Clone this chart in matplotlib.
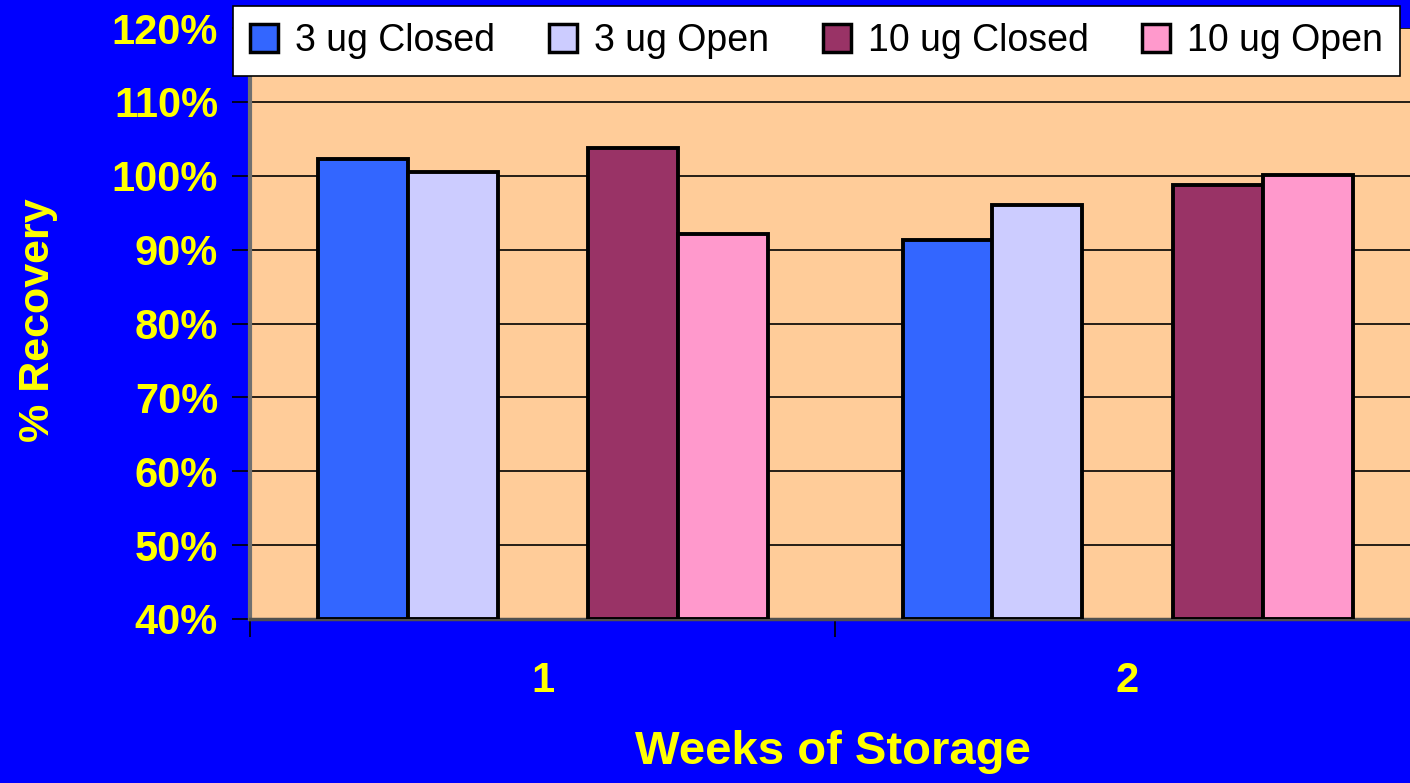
import numpy as np
import matplotlib
matplotlib.use('Agg')
import matplotlib.pyplot as plt
from matplotlib.ticker import FixedLocator

# Данные
weeks = ['1', '2']
series = ['3 ug Closed', '3 ug Open', '10 ug Closed', '10 ug Open']
values = [
    [102.3, 91.3],   # 3 ug Closed
    [100.5, 96.1],   # 3 ug Open
    [103.7, 98.8],   # 10 ug Closed
    [92.1, 100.1],   # 10 ug Open
]
colors = ['#3366FF', '#CCCCFF', '#993366', '#FF99CC']
yticks = [40, 50, 60, 70, 80, 90, 100, 110, 120]


def main():
    plt.rcParams['font.family'] = ['Liberation Sans', 'DejaVu Sans']
    W, H = 1410, 783
    fig = plt.figure(figsize=(W / 100, H / 100), dpi=100, facecolor='#0000FF')
    ax = fig.add_axes([250 / W, (H - 619) / H, 1170 / W, 591 / H])
    ax.set_facecolor('#FFCC99')

    x = np.arange(len(weeks))
    width = 90 / 585
    offsets = [-2, -1, 1, 2]
    for vals, name, col, off in zip(values, series, colors, offsets):
        ax.bar(x + off * width, np.array(vals) - 40, width, bottom=40,
               color=col, edgecolor='black', linewidth=2.8, label=name, zorder=3)

    ax.set_xlim(-0.5, 1.5)
    ax.set_ylim(40, 120)
    ax.yaxis.set_major_locator(FixedLocator(yticks))
    ax.set_yticklabels([f'{t}%' for t in yticks])
    ax.yaxis.grid(True, color='black', linewidth=1.2, zorder=1)

    ax.set_xticks(x)
    ax.set_xticklabels(weeks)
    ax.xaxis.set_minor_locator(FixedLocator([-0.5, 0.5, 1.5]))
    ax.tick_params(axis='x', which='major', length=0, pad=30)
    ax.tick_params(axis='x', which='minor', length=13, width=1.2, color='black')
    ax.tick_params(axis='y', length=13, width=1.2, color='black', pad=10)
    for lab in ax.get_xticklabels() + ax.get_yticklabels():
        lab.set_color('yellow')
        lab.set_fontweight('bold')
        lab.set_fontsize(30)

    for s in ['top', 'right']:
        ax.spines[s].set_visible(False)
    ax.spines['left'].set_color('#707070')
    ax.spines['left'].set_linewidth(3)
    ax.spines['bottom'].set_color('#505050')
    ax.spines['bottom'].set_linewidth(2.5)

    fig.text(38 / W, 1 - 320 / H, '% Recovery', rotation=90, color='yellow',
             fontsize=31, fontweight='bold', ha='center', va='center')
    fig.text(833 / W, 1 - 752 / H, 'Weeks of Storage', color='yellow',
             fontsize=34, fontweight='bold', ha='center', va='center')

    leg = fig.legend(loc='lower left', ncol=4, mode='expand',
                     bbox_to_anchor=(233 / W, 1 - 76 / H, (1400 - 233) / W, 69 / H),
                     fontsize=27, frameon=True, fancybox=False, borderaxespad=0,
                     handlelength=0.75, handleheight=0.75, handletextpad=0.45,
                     columnspacing=0.5, borderpad=0.45)
    leg.get_frame().set_edgecolor('black')
    leg.get_frame().set_linewidth(1.2)
    leg.get_frame().set_facecolor('white')
    leg.get_frame().set_alpha(1)
    for p in leg.get_patches():
        p.set_linewidth(2.5)

    fig.savefig('out.png', dpi=100, facecolor=fig.get_facecolor())


if __name__ == "__main__":
    main()
